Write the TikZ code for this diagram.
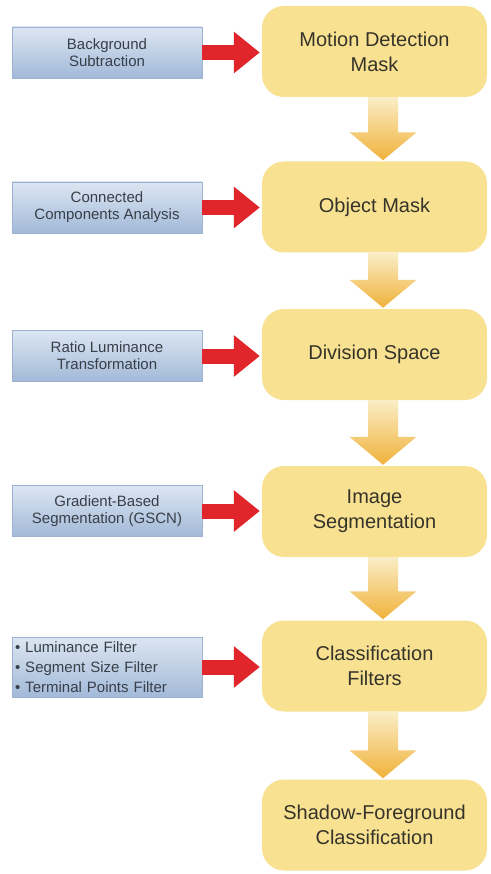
\documentclass[tikz,border=0pt]{standalone}
\usepackage{fontspec}
\setmainfont{Liberation Sans}
\usetikzlibrary{calc,arrows.meta}
\definecolor{yfill}{HTML}{F8E292}
\definecolor{ytext}{HTML}{36342A}
\definecolor{btop}{HTML}{DCE6F2}
\definecolor{bbot}{HTML}{A2B9D8}
\definecolor{bline}{HTML}{9DB2D0}
\definecolor{btext}{HTML}{383F48}
\definecolor{rarrow}{HTML}{E0262B}
\definecolor{atop}{HTML}{FAEDC6}
\definecolor{abot}{HTML}{F0B23A}
\tikzset{
  stagebox/.style={rectangle, rounded corners=22pt, minimum width=225pt, minimum height=91pt,
    fill=yfill, text=ytext, align=center, inner sep=2pt, font=\fontsize{20}{25}\selectfont},
  inbox/.style={rectangle, minimum width=190pt, minimum height=51pt, top color=btop, bottom color=bbot,
    draw=bline, line width=0.4pt, text=btext, align=center, inner sep=2pt, font=\fontsize{15}{17}\selectfont},
  feedarrow/.style={draw=rarrow, line width=15pt, -{Triangle[width=40pt,length=26pt]}},
}
\newcommand\flowarrow[2]{%
  \coordinate (t#1) at ($(#2.north)+(8.5,-1)$);
  \shade[top color=atop, bottom color=abot]
    ($(#1.south -| t#1)+(-15,0)$) -- ($(#1.south -| t#1)+(15,0)$) --
    ($(t#1)+(15,-28)$) -- ($(t#1)+(33.5,-28)$) -- (t#1) --
    ($(t#1)+(-33.5,-28)$) -- ($(t#1)+(-15,-28)$) -- cycle;}
\begin{document}
\begin{tikzpicture}[x=1pt,y=-1pt]
\useasboundingbox (0,0) rectangle (490,874);
\fill[white] (0,0) rectangle (490,874);
% stages
\node[stagebox] (m1) at (374.5,51.5) {Motion Detection\\Mask};
\node[stagebox] (m2) at (374.5,207) {Object Mask};
\node[stagebox] (m3) at (374.5,354.5) {Division Space};
\node[stagebox] (m4) at (374.5,511.5) {Image\\Segmentation};
\node[stagebox] (m5) at (374.5,666) {Classification\\Filters};
\node[stagebox] (m6) at (374.5,825) {Shadow-Foreground\\Classification};
% inputs
\node[inbox] (b1) at (107,52.5) {Background\\Subtraction};
\node[inbox] (b2) at (107,207.5) {Connected\\Components Analysis};
\node[inbox] (b3) at (107,356) {Ratio Luminance\\Transformation};
\node[inbox] (b4) at (107,511) {Gradient-Based\\Segmentation (GSCN)};
\node[inbox, minimum height=60pt, text width=184pt, align=left, inner xsep=3pt,
  font=\fontsize{15}{20}\selectfont] (b5) at (107,667)
  {\textbullet{} Luminance Filter\\\textbullet{} Segment Size Filter\\\textbullet{} Terminal Points Filter};
% red arrows
\foreach \i in {1,...,5}{
  \draw[feedarrow] (b\i.east) -- ($(b\i.east -| m\i.west)+(-2,0)$);
}
% down arrows
\flowarrow{m1}{m2}
\flowarrow{m2}{m3}
\flowarrow{m3}{m4}
\flowarrow{m4}{m5}
\flowarrow{m5}{m6}
\end{tikzpicture}
\end{document}
